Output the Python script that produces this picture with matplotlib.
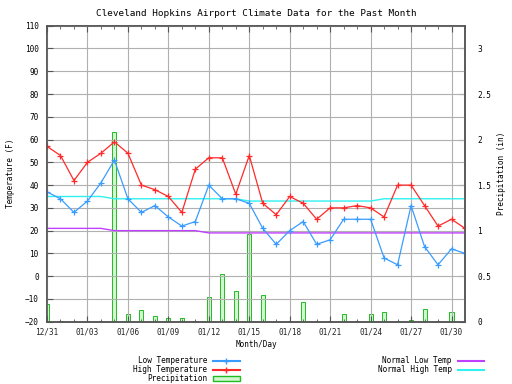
import matplotlib
matplotlib.use('Agg')
import matplotlib.pyplot as plt
from matplotlib.lines import Line2D
from matplotlib.patches import Patch

plt.rcParams['font.family'] = 'DejaVu Sans Mono'
plt.rcParams['font.size'] = 5.6

days = list(range(32))
day_labels = ['12/31'] + ['01/%02d' % d for d in range(1, 32)]

high_temp = [57, 53, 42, 50, 54, 59, 54, 40, 38, 35, 28, 47, 52, 52, 36, 53,
             32, 27, 35, 32, 25, 30, 30, 31, 30, 26, 40, 40, 31, 22, 25, 21]
low_temp = [37, 34, 28, 33, 41, 51, 34, 28, 31, 26, 22, 24, 40, 34, 34, 32,
            21, 14, 20, 24, 14, 16, 25, 25, 25, 8, 5, 31, 13, 5, 12, 10]
normal_high = [35, 35, 35, 35, 35, 34, 34, 34, 34, 34, 34, 34, 34, 34, 34, 33,
               33, 33, 33, 33, 33, 33, 33, 33, 33, 34, 34, 34, 34, 34, 34, 34]
normal_low = [21, 21, 21, 21, 21, 20, 20, 20, 20, 20, 20, 20, 19, 19, 19, 19,
              19, 19, 19, 19, 19, 19, 19, 19, 19, 19, 19, 19, 19, 19, 19, 19]
precip = [0.19, 0.01, 0, 0, 0.01, 2.08, 0.09, 0.13, 0.06, 0.04, 0.04, 0.01,
          0.27, 0.52, 0.34, 0.96, 0.29, 0, 0.01, 0.22, 0, 0.01, 0.08, 0.01,
          0.09, 0.11, 0.01, 0.02, 0.14, 0.01, 0.11, 0]

c_low = '#3a9cff'
c_high = '#ff2a2a'
c_nlow = '#c040ff'
c_nhigh = '#30f0f0'
c_prec = '#22bb22'
fill_prec = '#d0f7d0'
frame = '#555555'

fig = plt.figure(figsize=(5.12, 3.84), dpi=100)
ax = fig.add_axes([0.0918, 0.1622, 0.8164, 0.7708])
ax2 = ax.twinx()
ax.set_zorder(ax2.get_zorder() + 1)
ax.patch.set_visible(False)

ax2.bar(days, precip, width=0.3, facecolor=fill_prec, edgecolor=c_prec, linewidth=0.7)
ax2.set_ylim(0, 3.25)
ax2.set_yticks([0, 0.5, 1, 1.5, 2, 2.5, 3])
ax2.set_yticklabels(['0', '0.5', '1', '1.5', '2', '2.5', '3'])
ax2.set_ylabel('Precipitation (in)', labelpad=4)

ax.plot(days, normal_low, color=c_nlow, lw=1)
ax.plot(days, normal_high, color=c_nhigh, lw=1)
ax.plot(days, low_temp, color=c_low, lw=0.9, marker='+', ms=5, mew=0.9)
ax.plot(days, high_temp, color=c_high, lw=0.9, marker='+', ms=5, mew=0.9)

ax.set_xlim(0, 31)
ax.set_ylim(-20, 110)
ax.set_yticks(range(-20, 111, 10))
ax.set_xticks(days[::3])
ax.set_xticklabels(day_labels[::3])
ax.set_xticks(days, minor=True)
ax.grid(True, color='#b0b0b0', lw=0.8)
ax.set_axisbelow(True)
ax.set_xlabel('Month/Day', labelpad=3)
ax.set_ylabel('Temperature (F)', labelpad=7)
ax.set_title('Cleveland Hopkins Airport Climate Data for the Past Month', pad=7)

ax.tick_params(axis='x', which='both', direction='in', top=True, colors='#222222', pad=4)
ax.tick_params(axis='x', which='major', length=4, color=frame)
ax.tick_params(axis='x', which='minor', length=2, color=frame)
ax.tick_params(axis='y', direction='in', length=4, color=frame, pad=6)
ax2.tick_params(axis='y', direction='in', length=4, color=frame, pad=9)
for a in (ax, ax2):
    for s in a.spines.values():
        s.set_color(frame)
        s.set_linewidth(1.1)

h1 = [Line2D([], [], color=c_low, marker='+', ms=5, lw=1.5),
      Line2D([], [], color=c_high, marker='+', ms=5, lw=1.5),
      Patch(facecolor=fill_prec, edgecolor=c_prec, lw=1)]
leg1 = fig.legend(h1, ['Low Temperature', 'High Temperature', 'Precipitation'],
                  loc='upper right', bbox_to_anchor=(0.468, 0.072),
                  markerfirst=False, frameon=False, handlelength=3.4,
                  labelspacing=0.0, handletextpad=0.8, borderpad=0,
                  borderaxespad=0, handleheight=0.45)
h2 = [Line2D([], [], color=c_nlow, lw=1.5),
      Line2D([], [], color=c_nhigh, lw=1.5)]
leg2 = fig.legend(h2, ['Normal Low Temp', 'Normal High Temp'],
                  loc='upper right', bbox_to_anchor=(0.946, 0.072),
                  markerfirst=False, frameon=False, handlelength=3.4,
                  labelspacing=0.0, handletextpad=0.8, borderpad=0,
                  borderaxespad=0, handleheight=0.45)

fig.savefig('out.png', dpi=100)
